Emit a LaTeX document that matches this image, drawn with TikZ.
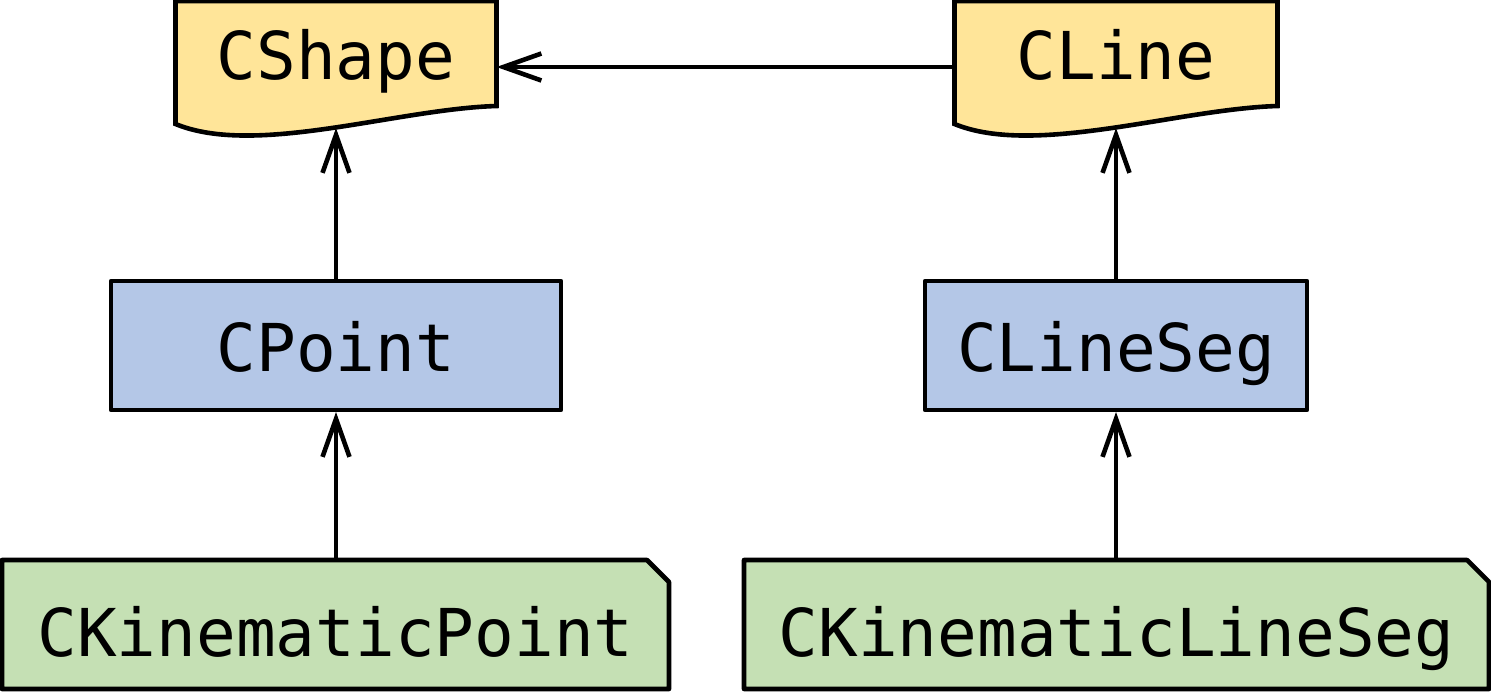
\documentclass[tikz,border=0pt]{standalone}
\usepackage{fontspec}
\setmonofont{DejaVu Sans Mono}
\usetikzlibrary{arrows.meta,shapes.misc,backgrounds}

\definecolor{gelb}{HTML}{FFE599}
\definecolor{blau}{HTML}{B4C7E7}
\definecolor{gruen}{HTML}{C5E0B4}

\tikzset{
  klasse/.style={inner sep=0pt, outer sep=1pt, minimum height=64.5pt,
    text height=24pt, text depth=0pt,
    font=\ttfamily\fontsize{33pt}{40pt}\selectfont},
  basis/.style={klasse, minimum height=64pt, text depth=12pt},
  mitte/.style={klasse, draw, line width=2.3pt, fill=blau, text height=26pt},
  blatt/.style={klasse, draw, line width=2.3pt, fill=gruen, text height=32pt,
    chamfered rectangle, chamfered rectangle corners=north east,
    chamfered rectangle xsep=5.5pt, chamfered rectangle ysep=5.5pt},
  erbt/.style={line width=2.3pt, -{Straight Barb[length=19pt,width=13.5pt]}}
}

\begin{document}
\begin{tikzpicture}[x=0.5pt, y=-0.5pt, line join=round]
        \useasboundingbox (0,0) rectangle (1491,691);

        % Basisklassen
        \node[basis, minimum width=158.5pt] (shape) at (336,67) {CShape};
        \node[basis, minimum width=159.5pt] (line) at (1116,67) {CLine};

        % Abgeleitete Klassen
        \node[mitte, minimum width=225pt] (point) at (336,345.5) {CPoint};
        \node[mitte, minimum width=191pt] (lineseg) at (1116,345.5) {CLineSeg};

        % Kinematik
        \node[blatt, minimum width=333.5pt] (kpoint) at (335.5,624.5) {CKinematicPoint};
        \node[blatt, minimum width=372.5pt] (klineseg) at (1116.5,624.5) {CKinematicLineSeg};

        % Dokumentform hinter den Basisklassen
        \begin{scope}[on background layer]
        \foreach \n in {shape,line}
        \filldraw[fill=gelb, line width=2.3pt]
        ([yshift=4.5pt]\n.south west) -- (\n.north west) -- (\n.north east)
        -- ([yshift=13.5pt]\n.south east)
        .. controls ([shift={(-50pt,12pt)}]\n.south east)
        and ([shift={(40pt,-12pt)}]\n.south west) .. ([yshift=4.5pt]\n.south west)
        coordinate[pos=0.49] (\n-fuss) -- cycle;
        \end{scope}

        % Vererbung
        \draw[erbt] (line.west) -- (shape.east);
        \draw[erbt] (point.north) -- (point.north |- shape-fuss);
        \draw[erbt] (lineseg.north) -- (lineseg.north |- line-fuss);
        \draw[erbt] (point.south |- kpoint.north) -- (point.south);
        \draw[erbt] (lineseg.south |- klineseg.north) -- (lineseg.south);
    \end{tikzpicture}
\end{document}
